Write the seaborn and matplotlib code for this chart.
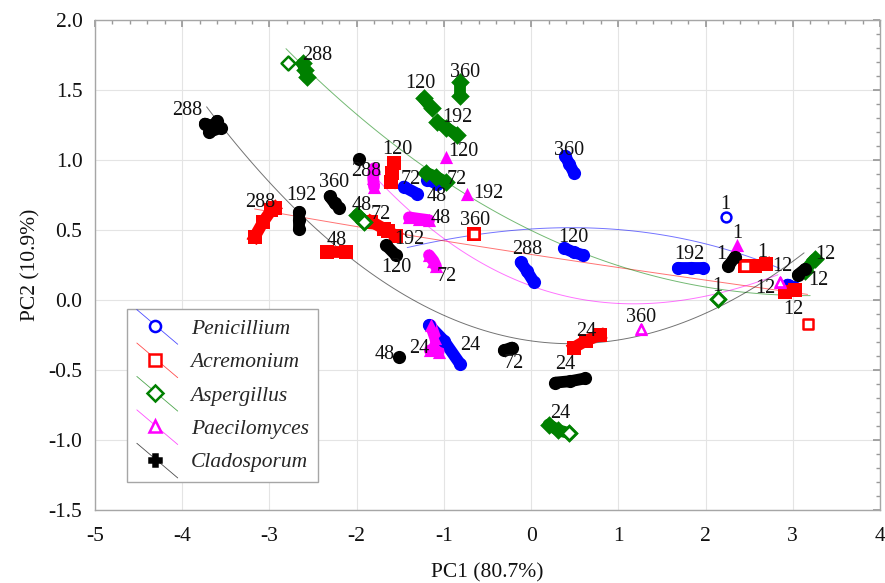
import numpy as np
import pandas as pd
import matplotlib.pyplot as plt
import seaborn as sns
from matplotlib.lines import Line2D
from matplotlib.legend_handler import HandlerBase
from matplotlib.ticker import MultipleLocator, FormatStrFormatter

species = ['Penicillium', 'Acremonium', 'Aspergillus', 'Paecilomyces', 'Cladosporum']
times = [1, 12, 24, 48, 72, 120, 192, 288, 360]

# PC scores, one list of replicates per sampling time (h)
pen_pc1 = [[], [2.94, 3.01], [-1.17, -1.0, -0.81], [-1.19, -1.08], [-1.46, -1.31],
           [0.38, 0.49, 0.60], [1.69, 1.83, 1.97], [-0.12, -0.05, 0.03], [0.39, 0.44, 0.49]]
pen_pc2 = [[], [0.11, 0.09], [-0.18, -0.29, -0.46], [0.86, 0.83], [0.81, 0.76],
           [0.37, 0.34, 0.32], [0.23, 0.23, 0.23], [0.27, 0.21, 0.13], [1.03, 0.97, 0.91]]
pen_open_t = [1]
pen_open_pc1 = [2.23]
pen_open_pc2 = [0.59]

acr_pc1 = [[2.45, 2.57, 2.69], [2.91, 3.03], [0.49, 0.63, 0.79], [-2.34, -2.12], [-1.83, -1.69],
           [-1.57, -1.59, -1.61], [-1.64, -1.55], [-3.17, -3.07, -2.98, -2.94], [-0.65]]
acr_pc2 = [[0.24, 0.24, 0.26], [0.06, 0.07], [-0.34, -0.29, -0.25], [0.34, 0.34], [0.56, 0.51],
           [0.98, 0.91, 0.84], [0.49, 0.46], [0.45, 0.56, 0.64, 0.66], [0.47]]
acr_open_t = [1, 12, 360]
acr_open_pc1 = [2.45, 3.17, -0.65]
acr_open_pc2 = [0.24, -0.17, 0.47]

asp_pc1 = [[2.14], [3.14, 3.25], [0.20, 0.31, 0.43], [-1.99, -1.92], [-1.21, -1.09, -0.97],
           [-1.23, -1.14], [-1.08, -0.97, -0.85], [-2.62, -2.59, -2.57], [-0.82, -0.82]]
asp_pc2 = [[0.01], [0.21, 0.29], [-0.89, -0.93, -0.95], [0.61, 0.56], [0.91, 0.88, 0.84],
           [1.44, 1.37], [1.27, 1.23, 1.18], [1.69, 1.64, 1.59], [1.56, 1.46]]
asp_open_t = [1, 24, 48, 288]
asp_open_pc1 = [2.14, 0.43, -1.92, -2.79]
asp_open_pc2 = [0.01, -0.95, 0.56, 1.69]

pae_pc1 = [[2.36], [2.85], [-1.15, -1.10, -1.06, -1.16], [-1.40, -1.29, -1.17], [-1.17, -1.12, -1.09],
           [-0.98], [-0.74], [-1.80, -1.81, -1.80], [1.26]]
pae_pc2 = [[0.39], [0.13], [-0.18, -0.27, -0.37, -0.36], [0.59, 0.58, 0.57], [0.32, 0.28, 0.24],
           [1.02], [0.76], [0.94, 0.87, 0.81], [-0.21]]
pae_open_t = [12, 360]
pae_open_pc1 = [2.85, 1.26]
pae_open_pc2 = [0.13, -0.21]

cla_pc1 = [[2.26, 2.34], [3.06, 3.14], [0.28, 0.45, 0.62], [-1.51], [-0.31, -0.22], [-1.66, -1.55],
           [-2.66, -2.66, -2.66], [-3.74, -3.65, -3.56, -3.69, -3.60], [-2.31, -2.25, -2.20]]
cla_pc2 = [[0.24, 0.31], [0.18, 0.22], [-0.59, -0.58, -0.56], [-0.41], [-0.36, -0.34], [0.39, 0.32],
           [0.63, 0.57, 0.51], [1.26, 1.24, 1.23, 1.20, 1.28], [0.74, 0.69, 0.66]]
cla_open_t = []
cla_open_pc1 = []
cla_open_pc2 = []
cla_extra_pc1 = [-1.97]
cla_extra_pc2 = [1.01]

# points
pen_fit_x = [-1.42, -0.6, 0.54, 1.31, 2.06, 2.85]
pen_fit_y = [0.37, 0.48, 0.51, 0.47, 0.41, 0.22]
acr_fit_x = [-3.17, -1.94, -0.6, -0.03, 1.69, 3.17]
acr_fit_y = [0.65, 0.52, 0.38, 0.33, 0.17, 0.04]
asp_fit_x = [-2.81, -2.05, -1.37, -0.6, -0.03, 0.54, 1.69, 3.2]
asp_fit_y = [1.82, 1.31, 1.0, 0.73, 0.53, 0.35, 0.1, 0.04]
pae_fit_x = [-1.77, -1.2, -0.6, -0.26, 0.17, 1.11, 2.06, 2.83]
pae_fit_y = [0.85, 0.57, 0.27, 0.16, 0.06, -0.04, 0.06, 0.17]
cla_fit_x = [-3.72, -2.74, -1.89, -0.6, 0.0, 0.46, 1.31, 2.34, 3.13]
cla_fit_y = [1.38, 0.67, 0.22, -0.2, -0.31, -0.31, -0.23, 0.0, 0.34]

# styling
colors = {'Penicillium': '#0000ff', 'Acremonium': '#ff0000', 'Aspergillus': '#008000',
          'Paecilomyces': '#ff00ff', 'Cladosporum': '#000000'}
markers = {'Penicillium': 'o', 'Acremonium': 's', 'Aspergillus': 'D',
           'Paecilomyces': '^', 'Cladosporum': 'o'}
legend_markers = {'Penicillium': 'o', 'Acremonium': 's', 'Aspergillus': 'D',
                  'Paecilomyces': '^', 'Cladosporum': 'P'}
label_offsets = {
    'Penicillium': {1: (0, 13), 12: (-25, -2), 24: (26, -2), 48: (5, -15), 72: (0, 11),
                    120: (0, 14), 192: (-1, 13), 288: (0, 22), 360: (0, 14)},
    'Acremonium': {1: (7, 13), 12: (3, -19), 24: (0, 10), 48: (0, 12), 72: (3, 11),
                   120: (5, 23), 192: (17, -6), 288: (-6, 17), 360: (1, 14)},
    'Aspergillus': {1: (0, 12), 12: (16, 11), 24: (2, 16), 48: (1, 13), 72: (21, -2),
                    120: (-7, 20), 192: (11, 11), 288: (12, 15), 360: (6, 16)},
    'Paecilomyces': {1: (0, 12), 12: (3, 15), 24: (-14, -7), 48: (22, 0), 72: (14, -16),
                     120: (18, 6), 192: (22, 0), 288: (-8, 6), 360: (0, 12)},
    'Cladosporum': {1: (-10, 7), 12: (17, -8), 24: (-5, 16), 48: (-15, 3), 72: (6, -14),
                    120: (5, -17), 192: (2, 25), 288: (-26, 16), 360: (0, 20)},
}

groups = {
    'Penicillium': (pen_pc1, pen_pc2, pen_open_t, pen_open_pc1, pen_open_pc2, pen_fit_x, pen_fit_y),
    'Acremonium': (acr_pc1, acr_pc2, acr_open_t, acr_open_pc1, acr_open_pc2, acr_fit_x, acr_fit_y),
    'Aspergillus': (asp_pc1, asp_pc2, asp_open_t, asp_open_pc1, asp_open_pc2, asp_fit_x, asp_fit_y),
    'Paecilomyces': (pae_pc1, pae_pc2, pae_open_t, pae_open_pc1, pae_open_pc2, pae_fit_x, pae_fit_y),
    'Cladosporum': (cla_pc1, cla_pc2, cla_open_t, cla_open_pc1, cla_open_pc2, cla_fit_x, cla_fit_y),
}

rows = []
for sp, (px, py, *_rest) in groups.items():
    for t, xs, ys in zip(times, px, py):
        for x, y in zip(xs, ys):
            rows.append((sp, t, f'{sp}-{t}', x, y))
for x, y in zip(cla_extra_pc1, cla_extra_pc2):
    rows.append(('Cladosporum', 0, 'Cladosporum-extra', x, y))
df = pd.DataFrame(rows, columns=['species', 'time', 'cluster', 'pc1', 'pc2'])

sns.set_theme(style='white')
plt.rcParams['font.family'] = ['Liberation Serif', 'DejaVu Serif']
plt.rcParams['axes.unicode_minus'] = False

fig = plt.figure(figsize=(8.85, 5.83), dpi=100)
ax = fig.add_axes([0.1073, 0.1252, 0.887, 0.8405])

# trend curves
for sp, g in groups.items():
    sns.regplot(x=g[5], y=g[6], order=3, scatter=False, ci=None, truncate=True,
                color=colors[sp], line_kws={'linewidth': 0.7, 'alpha': 0.55, 'zorder': 1}, ax=ax)

# replicate trails and markers
for sp in species:
    d = df[df['species'] == sp]
    cap = 'projecting' if sp == 'Acremonium' else 'round'
    sns.lineplot(data=d, x='pc1', y='pc2', units='cluster', estimator=None, sort=False,
                 color=colors[sp], linewidth=8.5, solid_capstyle=cap, solid_joinstyle='round',
                 legend=False, ax=ax, zorder=2)
    size = 110 if sp == 'Acremonium' else 90
    sns.scatterplot(data=d, x='pc1', y='pc2', color=colors[sp], marker=markers[sp],
                    s=size, linewidth=0, legend=False, ax=ax, zorder=3)
    g = groups[sp]
    if g[3]:
        ax.scatter(g[3], g[4], marker=markers[sp], s=50, facecolors='white',
                   edgecolors=colors[sp], linewidths=1.8, zorder=4)

# time labels
for sp, g in groups.items():
    for t, xs, ys in zip(times, g[0], g[1]):
        if xs:
            ax_, ay_ = np.mean(xs), np.mean(ys)
        else:
            i = g[2].index(t)
            ax_, ay_ = g[3][i], g[4][i]
        dx, dy = label_offsets[sp][t]
        ax.annotate(str(t), (ax_, ay_), xytext=(dx, dy), textcoords='offset pixels',
                    ha='center', va='center', fontsize=14.5, color='#111111', zorder=6)

ax.set_xlim(-5, 4)
ax.set_ylim(-1.5, 2.0)
ax.xaxis.set_major_locator(MultipleLocator(1))
ax.xaxis.set_minor_locator(MultipleLocator(0.2))
ax.yaxis.set_major_locator(MultipleLocator(0.5))
ax.yaxis.set_minor_locator(MultipleLocator(0.1))
ax.yaxis.set_major_formatter(FormatStrFormatter('%.1f'))
ax.grid(True, which='major', color='#e4e4e4', lw=0.8)
ax.set_axisbelow(True)
ax.tick_params(which='both', direction='in', top=True, right=True, color='#999999',
               labelcolor='#111111', labelsize=15.5)
ax.tick_params(which='major', length=5)
ax.tick_params(which='minor', length=3)
ax.tick_params(axis='x', pad=12)
ax.tick_params(axis='y', pad=9)
for s in ax.spines.values():
    s.set_color('#a6a6a6')
    s.set_linewidth(1)
ax.set_xlabel('PC1 (80.7%)', fontsize=15.5, labelpad=13, color='#111111')
ax.set_ylabel('PC2 (10.9%)', fontsize=15.5, labelpad=6, color='#111111')


class DiagHandler(HandlerBase):
    def create_artists(self, legend, orig_handle, xdescent, ydescent, width, height, fontsize, trans):
        c = orig_handle.get_color()
        line = Line2D([-xdescent, width - xdescent], [height * 1.6 - ydescent, -height * 0.7 - ydescent],
                      color=c, lw=0.6, alpha=0.7, transform=trans)
        face = c if orig_handle.get_marker() == 'P' else 'white'
        mk = Line2D([width * 0.45 - xdescent], [height * 0.5 - ydescent], marker=orig_handle.get_marker(),
                    ms=8, mfc=face, mec=c, mew=1.8, ls='none', transform=trans)
        return [line, mk]


handles = [Line2D([], [], color=colors[sp], marker=legend_markers[sp], label=sp) for sp in species]
leg = ax.legend(handles=handles, loc='lower left', bbox_to_anchor=(0.041, 0.057), borderaxespad=0,
                handler_map={Line2D: DiagHandler()}, handlelength=1.9, handletextpad=0.6,
                labelspacing=0.62, borderpad=0.45, fancybox=False, framealpha=1,
                prop={'style': 'italic', 'size': 15.5})
leg.get_frame().set_edgecolor('#a6a6a6')
leg.get_frame().set_linewidth(1)

fig.savefig('out.png', dpi=100)
